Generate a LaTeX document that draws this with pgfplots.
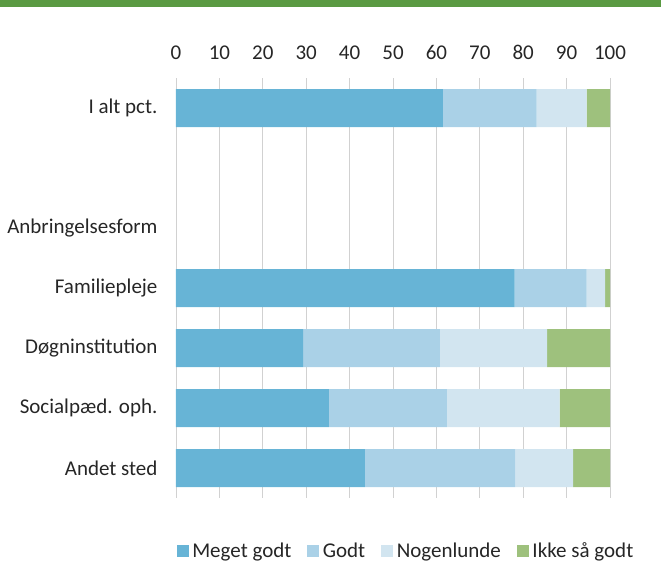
\documentclass[border=0pt]{standalone}
\usepackage{pgfplots}
\pgfplotsset{compat=1.18}
\usepackage{fontspec}
\setmainfont{Carlito}
\definecolor{c1}{HTML}{67B4D6}
\definecolor{c2}{HTML}{AAD1E7}
\definecolor{c3}{HTML}{D2E5F0}
\definecolor{c4}{HTML}{9EC17D}
\definecolor{topgreen}{HTML}{5A9A42}
\begin{document}
\begin{tikzpicture}
\path[use as bounding box] (-176pt,-64pt) rectangle (485pt,498pt);
\fill[topgreen] (-176pt,491pt) rectangle (485pt,497.5pt);
\begin{axis}[name=ax, at={(0,0)}, anchor=south west,
 scale only axis, width=434pt, height=420pt,
 xbar stacked, bar width=38pt,
 xmin=0, xmax=100, ymin=-0.5, ymax=6.5, y dir=reverse,
 xtick={0,10,...,100}, xticklabel pos=upper,
 xmajorgrids, grid style={black!18, line width=0.8pt},
 axis line style={draw=none}, major tick length=0pt,
 ytick={0,...,6},
 yticklabels={I alt pct.,,Anbringelsesform,Familiepleje,Døgninstitution,Socialpæd. oph.,Andet sted},
 tick label style={font=\fontsize{21}{24}\selectfont, text=black!85},
 /pgf/number format/assume math mode=true,
 xticklabel style={yshift=15pt},
 yticklabel style={xshift=-15pt},
 legend style={at={(0.53,-0.126)}, anchor=center, draw=none, legend columns=4,
   font=\fontsize{21}{24}\selectfont, text=black!85,
   /tikz/every odd column/.append style={column sep=1.5pt},
   /tikz/every even column/.append style={column sep=14pt}},
 legend image code/.code={\fill[#1] (0pt,-6pt) rectangle (12pt,6pt);},
]
\addplot[fill=c1, draw=none] coordinates {(61.5,0) (0,1) (0,2) (78.0,3) (29.3,4) (35.2,5) (43.5,6)};
\addplot[fill=c2, draw=none] coordinates {(21.6,0) (0,1) (0,2) (16.6,3) (31.5,4) (27.2,5) (34.7,6)};
\addplot[fill=c3, draw=none] coordinates {(11.5,0) (0,1) (0,2) (4.3,3) (24.7,4) (26.0,5) (13.3,6)};
\addplot[fill=c4, draw=none] coordinates {(5.4,0) (0,1) (0,2) (1.1,3) (14.5,4) (11.6,5) (8.5,6)};
\legend{Meget godt, Godt, Nogenlunde, Ikke så godt}
\end{axis}
\end{tikzpicture}
\end{document}
